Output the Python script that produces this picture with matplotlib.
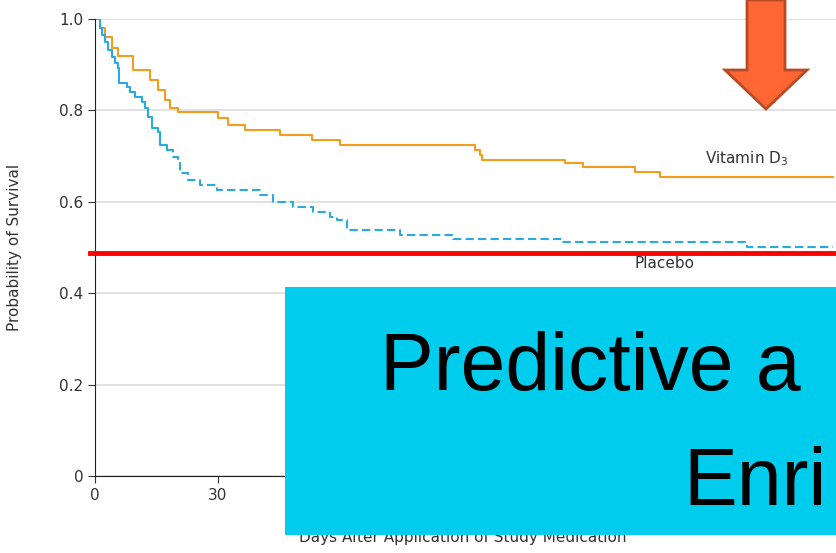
import matplotlib.pyplot as plt
from matplotlib.patches import Rectangle, Polygon
from matplotlib.lines import Line2D

# Kaplan-Meier steps (days, survival probability)
vit_days = [0, 1.2, 2.4, 4.1, 5.6, 9.3, 13.4, 15.4, 17.1, 18.3, 20.2, 30, 32.4, 36.6,
            45.1, 52.9, 59.7, 92.7, 93.9, 94.4, 114.6, 119, 131.7, 137.8, 180]
vit_surv = [1.0, 0.98, 0.96, 0.937, 0.92, 0.888, 0.866, 0.845, 0.823, 0.805, 0.797, 0.783,
            0.768, 0.757, 0.746, 0.735, 0.724, 0.713, 0.702, 0.691, 0.685, 0.676, 0.665,
            0.654, 0.654]

pla_days_solid = [0, 1.2, 1.7, 2.4, 3.2, 4.1, 4.9, 5.6, 5.9, 7.8, 8.5, 9.8, 11.5, 12.2,
                  12.9, 13.9, 15.4, 15.9, 17.6]
pla_surv_solid = [1.0, 0.98, 0.965, 0.95, 0.932, 0.917, 0.903, 0.893, 0.86, 0.851, 0.84,
                  0.829, 0.818, 0.805, 0.786, 0.761, 0.753, 0.724, 0.713]
pla_days_dash = [17.6, 19.0, 20.2, 20.7, 22.7, 25.6, 29.8, 40.2, 43.4, 48.3, 53.2, 57.3,
                 59.0, 61.5, 74.4, 87.3, 114.1, 159.0, 180]
pla_surv_dash = [0.713, 0.698, 0.685, 0.663, 0.648, 0.637, 0.626, 0.615, 0.6, 0.589, 0.578,
                 0.567, 0.56, 0.538, 0.527, 0.519, 0.512, 0.501, 0.501]

y_ticks = [0, 0.2, 0.4, 0.6, 0.8, 1.0]
y_labels = ['0', '0.2', '0.4', '0.6', '0.8', '1.0']
x_ticks = [0, 30, 60, 90, 120, 150, 180]
threshold = 0.488

W, H = 837, 553
fig = plt.figure(figsize=(W / 100, H / 100), dpi=100)
ax = fig.add_axes([95 / W, 1 - 476 / H, 742 / W, 457 / H])
ax.set_xlim(0, 742 * 30 / 123)
ax.set_ylim(0, 1.0)

ax.step(vit_days, vit_surv, where='post', color='#F39C1E', lw=1.5)
ax.step(pla_days_solid, pla_surv_solid, where='post', color='#29ABE2', lw=1.5)
ax.step(pla_days_dash, pla_surv_dash, where='post', color='#29ABE2', lw=1.5,
        linestyle=(0, (4, 2)))

ax.set_yticks(y_ticks)
ax.set_yticklabels(y_labels)
ax.set_xticks(x_ticks)
ax.tick_params(labelsize=11, colors='#333333', length=5)
ax.grid(axis='y', color='#dddddd', lw=1.2)
ax.set_axisbelow(True)
for s in ['top', 'right']:
    ax.spines[s].set_visible(False)
ax.spines['left'].set_color('#222222')
ax.spines['bottom'].set_color('#222222')
ax.set_ylabel('Probability of Survival', fontsize=11, color='#333333')
ax.yaxis.set_label_coords(-(95 - 22) / 742, 0.5)
ax.set_xlabel('Days After Application of Study Medication', fontsize=11, color='#333333')
ax.xaxis.set_label_coords((463 - 95) / 742, -(530 - 476) / 457)
ax.xaxis.label.set_verticalalignment('top')

ax.text(159, 0.675, 'Vitamin D$_3$', fontsize=11, color='#333333', ha='center', va='bottom')
ax.text(139, 0.466, 'Placebo', fontsize=11, color='#333333', ha='center', va='center')

# red threshold line drawn across the slide
fig.add_artist(Line2D([90 / W, 1], [1 - 253 / H] * 2, color='red', lw=3.5))

# arrow
arrow = [(747, 0), (785, 0), (785, 70), (807, 70), (766, 109), (725, 70), (747, 70)]
fig.add_artist(Polygon([(x / W, 1 - y / H) for x, y in arrow], closed=True,
                       facecolor='#FF6633', edgecolor='#B84A25', lw=2))

# cyan text box
fig.add_artist(Rectangle((285 / W, 1 - 535 / H), 560 / W, 248 / H,
                         facecolor='#00CCEE', edgecolor='none', zorder=5))
fig.text(380 / W, 1 - 390 / H, 'Predictive a', fontsize=58, family='Liberation Sans',
         color='black', zorder=6)
fig.text(683 / W, 1 - 505 / H, 'Enri', fontsize=58, family='Liberation Sans',
         color='black', zorder=6)

fig.savefig('out.png', dpi=100)
